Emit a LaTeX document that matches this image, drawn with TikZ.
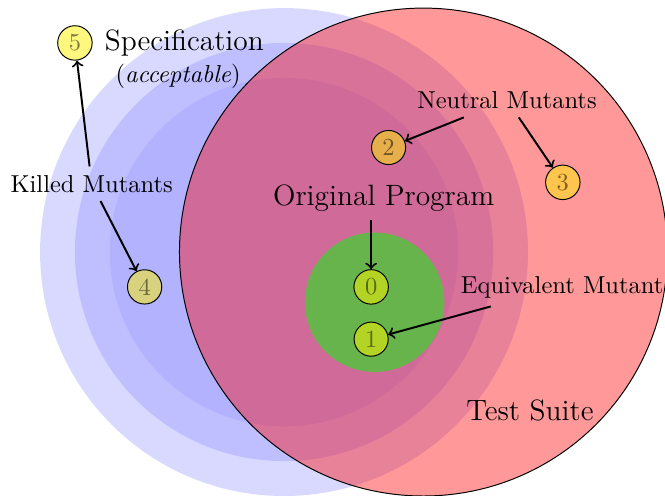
\documentclass[tikz,border=0pt]{standalone}
\begin{document}
\begin{tikzpicture}[
  mutant/.style={circle, draw, inner sep=2pt, fill=yellow, fill opacity=0.5, text opacity=0.5},
  lbl/.style={font=\normalsize},
  biglbl/.style={font=\large},
  arr/.style={->, thick}
]
\useasboundingbox (-4.075,-3.486) rectangle (5.466,3.616);
% specification rings
\fill[blue!15] (0,0) circle (3.5);
\fill[blue!25] (0,0) circle (3);
\fill[blue!30] (0,0) circle (2.5);
% test suite
\draw[fill=red, fill opacity=0.4] (2,0) circle (3.5);
% original program region
\fill[green, fill opacity=0.5] (1.3,-0.72) circle (1);
% mutants
\node[mutant] (n0) at (1.25,-0.5) {0};
\node[mutant] (n1) at (1.25,-1.25) {1};
\node[mutant] (n2) at (1.5,1.5) {2};
\node[mutant] (n3) at (4,1) {3};
\node[mutant] (n4) at (-2,-0.5) {4};
\node[mutant] (n5) at (-3,3) {5};
% labels
\node[biglbl] (spec) at (-1.43,3) {Specification};
\node[lbl] (acc) at (-1.52,2.52) {(\textit{acceptable})};
\node[lbl] (killed) at (-2.76,0.98) {Killed Mutants};
\node[lbl] (neutral) at (3.2,2.18) {Neutral Mutants};
\node[biglbl] (orig) at (1.43,0.77) {Original Program};
\node[lbl] (equiv) at (3.99,-0.5) {Equivalent Mutant};
\node[biglbl] (suite) at (3.53,-2.27) {Test Suite};
% arrows
\draw[arr] (killed) -- (n5);
\draw[arr] (killed) -- (n4);
\draw[arr] (neutral) -- (n2);
\draw[arr] (neutral) -- (n3);
\draw[arr] (orig.south -| n0) -- (n0);
\draw[arr] (equiv) -- (n1);
\end{tikzpicture}
\end{document}
